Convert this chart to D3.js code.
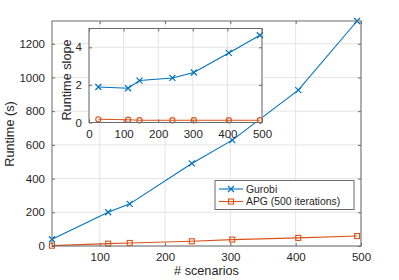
<!DOCTYPE html>
<html>
<head>
<meta charset="utf-8">
<script src="https://cdn.jsdelivr.net/npm/d3@7"></script>
<style>
  body { margin: 0; background: #fff; }
  svg { display: block; font-family: "Liberation Sans", Arial, sans-serif; }
</style>
</head>
<body>
<svg id="drawing_region"></svg>
<script>
// data
const scenarios = [27, 113, 146, 241, 303, 404, 494];
const gurobi_runtime = [40, 200, 250, 490, 628, 925, 1335];
const apg_runtime = [2, 14, 18, 28, 38, 48, 59];
const gurobi_slope = [1.89, 1.82, 2.23, 2.37, 2.66, 3.70, 4.64];
const apg_slope = [0.17, 0.15, 0.12, 0.12, 0.12, 0.12, 0.12];

const main_xticks = [100, 200, 300, 400, 500];
const main_yticks = [0, 200, 400, 600, 800, 1000, 1200];
const inset_xticks = [0, 100, 200, 300, 400, 500];
const inset_yticks = [0, 2, 4];
const legend_labels = ['Gurobi', 'APG (500 iterations)'];

const blue = '#0072BD';
const orange = '#D95319';
const text_color = '#262626';
const box_color = '#6b6b6b';
const grid_color = '#e4e4e4';

const svg = d3.select('#drawing_region')
    .attr('width', 399)
    .attr('height', 280);

function drawAxes( cfg ) {
    const g = svg.append('g');
    const xscale = d3.scaleLinear().domain(cfg.xdomain).range([cfg.left, cfg.right]);
    const yscale = d3.scaleLinear().domain(cfg.ydomain).range([cfg.bottom, cfg.top]);

    g.append('rect')
        .attr('x', cfg.left).attr('y', cfg.top)
        .attr('width', cfg.right - cfg.left).attr('height', cfg.bottom - cfg.top)
        .attr('fill', '#fff');

    // grid
    g.append('g').selectAll('line')
        .data(cfg.xticks).join('line')
        .attr('x1', d => xscale(d)).attr('x2', d => xscale(d))
        .attr('y1', cfg.top).attr('y2', cfg.bottom)
        .attr('stroke', grid_color).attr('stroke-width', 1);
    g.append('g').selectAll('line')
        .data(cfg.yticks).join('line')
        .attr('x1', cfg.left).attr('x2', cfg.right)
        .attr('y1', d => yscale(d)).attr('y2', d => yscale(d))
        .attr('stroke', grid_color).attr('stroke-width', 1);

    // axes with inward ticks on all four sides
    const tick = 3;
    const fmt = d3.format('d');
    const xaxis = d3.axisBottom(xscale).tickValues(cfg.xticks).tickFormat(fmt).tickSizeInner(-tick).tickSizeOuter(0).tickPadding(7);
    const yaxis = d3.axisLeft(yscale).tickValues(cfg.yticks).tickFormat(fmt).tickSizeInner(-tick).tickSizeOuter(0).tickPadding(7);
    const xaxis_top = d3.axisTop(xscale).tickValues(cfg.xticks).tickSizeInner(-tick).tickSizeOuter(0).tickFormat('');
    const yaxis_right = d3.axisRight(yscale).tickValues(cfg.yticks).tickSizeInner(-tick).tickSizeOuter(0).tickFormat('');

    const axes = [
        g.append('g').attr('transform', `translate(0, ${cfg.bottom})`).call(xaxis),
        g.append('g').attr('transform', `translate(${cfg.left}, 0)`).call(yaxis),
        g.append('g').attr('transform', `translate(0, ${cfg.top})`).call(xaxis_top),
        g.append('g').attr('transform', `translate(${cfg.right}, 0)`).call(yaxis_right)
    ];
    axes.forEach(a => {
        a.select('.domain').remove();
        a.selectAll('line').attr('stroke', box_color);
        a.selectAll('text')
            .attr('fill', text_color)
            .style('font-size', '11.5px')
            .style('font-family', '"Liberation Sans", Arial, sans-serif');
    });

    const plot = g.append('g');

    g.append('rect')
        .attr('x', cfg.left).attr('y', cfg.top)
        .attr('width', cfg.right - cfg.left).attr('height', cfg.bottom - cfg.top)
        .attr('fill', 'none').attr('stroke', box_color).attr('stroke-width', 1);

    // labels
    if (cfg.xlabel) {
        g.append('text')
            .attr('x', (cfg.left + cfg.right) / 2)
            .attr('y', cfg.xlabel_y)
            .attr('text-anchor', 'middle')
            .attr('fill', text_color)
            .style('font-size', '12.7px')
            .text(cfg.xlabel);
    }
    g.append('text')
        .attr('transform', `translate(${cfg.ylabel_x}, ${cfg.ylabel_cy}) rotate(-90)`)
        .attr('text-anchor', 'middle')
        .attr('dy', '0.35em')
        .attr('fill', text_color)
        .style('font-size', '12.7px')
        .text(cfg.ylabel);

    return { plot, xscale, yscale };
}

function drawSeries( ax, xs, ys, color, marker ) {
    const pts = xs.map((x, i) => [ax.xscale(x), ax.yscale(ys[i])]);
    ax.plot.append('path')
        .attr('d', d3.line()(pts))
        .attr('fill', 'none')
        .attr('stroke', color)
        .attr('stroke-width', 1.1);
    drawMarkers(ax.plot, pts, color, marker);
}

function drawMarkers( g, pts, color, marker ) {
    pts.forEach(p => {
        if (marker === 'x') {
            const s = 3;
            g.append('path')
                .attr('d', `M${p[0]-s},${p[1]-s}L${p[0]+s},${p[1]+s}M${p[0]-s},${p[1]+s}L${p[0]+s},${p[1]-s}`)
                .attr('stroke', color).attr('stroke-width', 1.2);
        } else if (marker === 's') {
            const s = 2.5;
            g.append('rect')
                .attr('x', p[0]-s).attr('y', p[1]-s)
                .attr('width', 2*s).attr('height', 2*s)
                .attr('fill', 'none').attr('stroke', color).attr('stroke-width', 1.1);
        } else {
            g.append('circle')
                .attr('cx', p[0]).attr('cy', p[1]).attr('r', 2.6)
                .attr('fill', 'none').attr('stroke', color).attr('stroke-width', 1.1);
        }
    });
}

// main axes
const main = drawAxes({
    left: 52, right: 361, top: 21, bottom: 246,
    xdomain: [scenarios[0], 500], ydomain: [0, 1335],
    xticks: main_xticks, yticks: main_yticks,
    xlabel: '# scenarios', xlabel_y: 275,
    ylabel: 'Runtime (s)', ylabel_x: 10, ylabel_cy: 134
});
drawSeries(main, scenarios, gurobi_runtime, blue, 'x');
drawSeries(main, scenarios, apg_runtime, orange, 's');

// legend
const legend = svg.append('g');
legend.append('rect')
    .attr('x', 215).attr('y', 180.5)
    .attr('width', 139).attr('height', 29)
    .attr('fill', '#fff').attr('stroke', box_color).attr('stroke-width', 1);
legend_labels.forEach((label, i) => {
    const y = 189 + i * 12.5;
    const color = i === 0 ? blue : orange;
    legend.append('line')
        .attr('x1', 219).attr('x2', 243).attr('y1', y).attr('y2', y)
        .attr('stroke', color).attr('stroke-width', 1.1);
    drawMarkers(legend, [[231, y]], color, i === 0 ? 'x' : 's');
    legend.append('text')
        .attr('x', 246).attr('y', y)
        .attr('dy', '0.35em')
        .attr('fill', text_color)
        .style('font-size', '10.4px')
        .text(label);
});

// inset axes
const inset = drawAxes({
    left: 89, right: 262, top: 28.5, bottom: 122.5,
    xdomain: [0, 500], ydomain: [0, 5],
    xticks: inset_xticks, yticks: inset_yticks,
    ylabel: 'Runtime slope', ylabel_x: 67, ylabel_cy: 80
});
drawSeries(inset, scenarios, gurobi_slope, blue, 'x');
drawSeries(inset, scenarios, apg_slope, orange, 'o');
</script>
</body>
</html>
